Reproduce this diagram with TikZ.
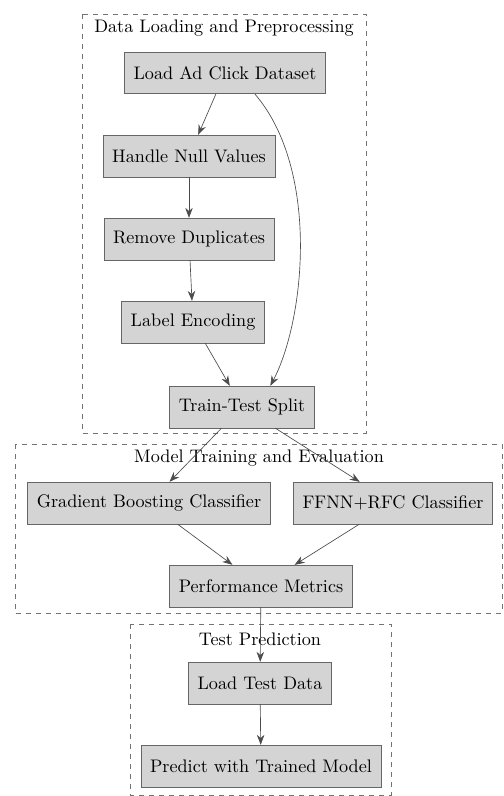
\documentclass[tikz,border=0pt]{standalone}
\usepackage{tikz}
\usetikzlibrary{arrows.meta}
\tikzset{
    >={Stealth[length=6pt, width=4.5pt]}, % arrow heads
    every node/.style={font=\fontsize{10.9}{13}\selectfont},
    proc/.style={draw=black!60, fill=black!17, minimum height=25pt, inner xsep=5.5pt}, % the grey boxes
    cluster/.style={draw=black!55, dashed}, % dashed groups
    edge/.style={->, draw=black!70},
}

\begin{document}
\begin{tikzpicture}[x=0.6pt, y=-0.6pt]
        \useasboundingbox (0,0) rectangle (503,796);

        % groups
        \draw[cluster] (82,14) rectangle (366,433);
        \draw[cluster] (15,444) rectangle (502,613);
        \draw[cluster] (130,624) rectangle (391,795);
        \node (T1) at (224,28) {Data Loading and Preprocessing};
        \node (T2) at (259,458) {Model Training and Evaluation};
        \node (T3) at (260,639) {Test Prediction};

        % steps
        \node[proc] (LA) at (225,73) {Load Ad Click Dataset};
        \node[proc] (HN) at (189,156) {Handle Null Values};
        \node[proc] (RD) at (189,239) {Remove Duplicates};
        \node[proc] (LE) at (193,322) {Label Encoding};
        \node[proc] (TT) at (242,407) {Train-Test Split};
        \node[proc] (GB) at (149,503) {Gradient Boosting Classifier};
        \node[proc] (FR) at (393,503) {FFNN+RFC Classifier};
        \node[proc] (PM) at (261,586) {Performance Metrics};
        \node[proc] (LT) at (260,683) {Load Test Data};
        \node[proc] (PR) at (261,766) {Predict with Trained Model};

        \draw[edge] (LA) -- (HN);
        \draw[edge] ([xshift=18pt]LA.south) .. controls (320,170) and (305,320) .. ([xshift=17pt]TT.north);
        \draw[edge] (HN) -- (RD);
        \draw[edge] (RD) -- (LE);
        \draw[edge] (LE) -- (TT);
        \draw[edge] (TT) -- (GB);
        \draw[edge] (TT) -- (FR);
        \draw[edge] (GB) -- (PM);
        \draw[edge] (FR) -- (PM);
        \draw[edge] (PM) -- (LT);
        \draw[edge] (LT) -- (PR);
    \end{tikzpicture}
\end{document}
